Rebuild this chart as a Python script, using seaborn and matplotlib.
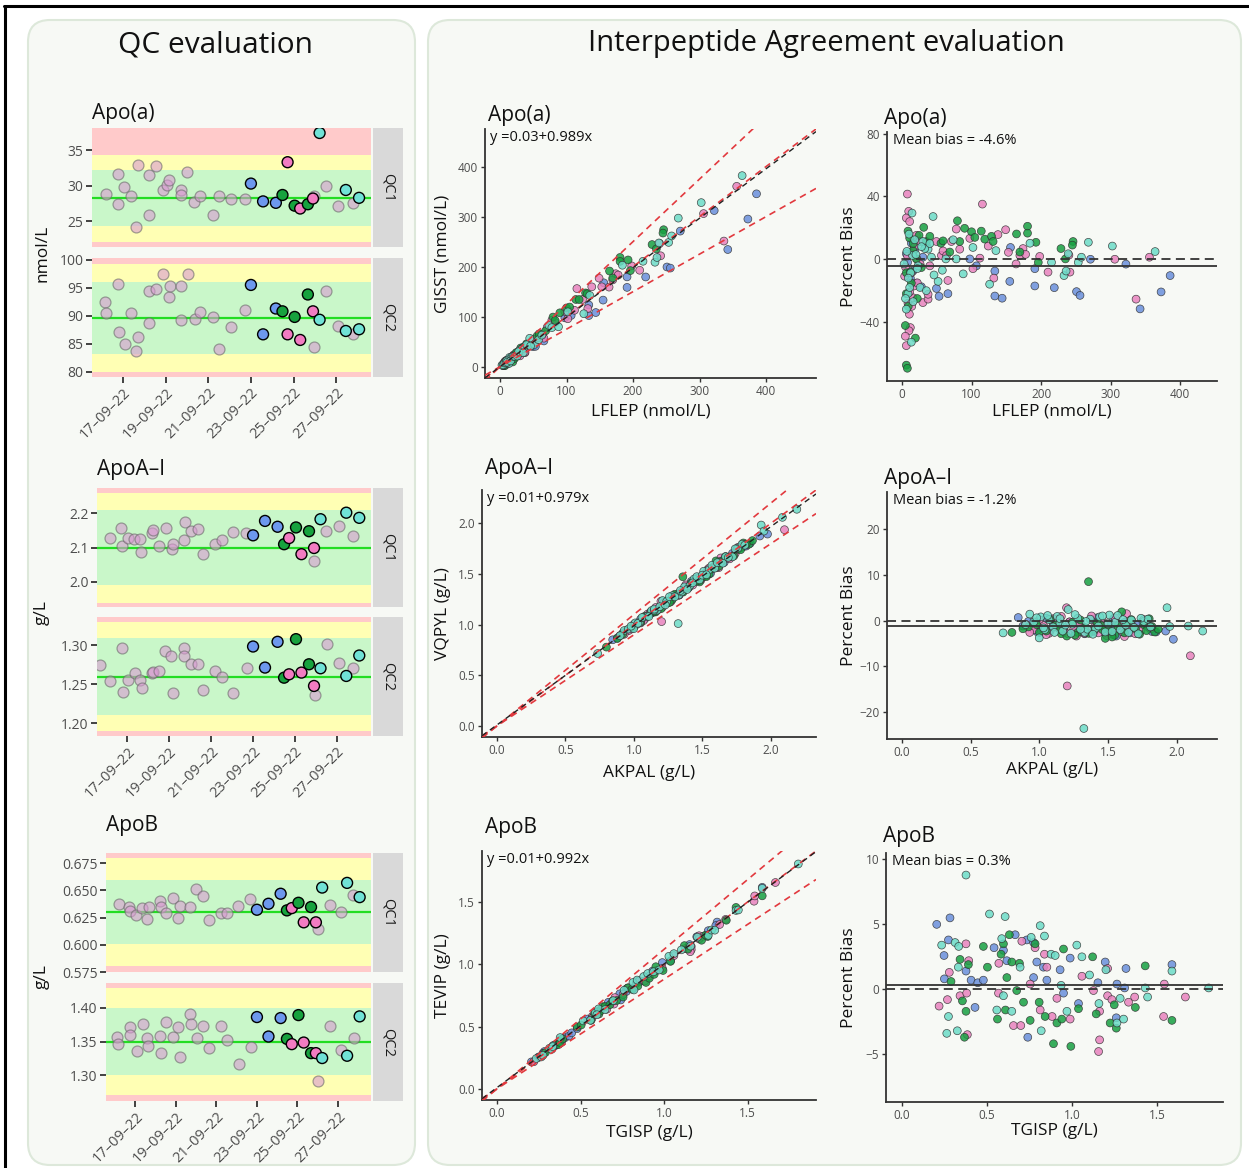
import numpy as np
import pandas as pd
import matplotlib
matplotlib.use("Agg")
import matplotlib.pyplot as plt
import matplotlib.dates as mdates
from matplotlib.patches import FancyBboxPatch
from matplotlib.lines import Line2D
from matplotlib.transforms import IdentityTransform
import seaborn as sns

# ---------------------------------------------------------------- data
# QC runs: the 12 most recent runs (coloured by batch) share the same days
RUN_DAYS = [23.0, 23.57, 24.17, 24.48, 24.72, 25.05, 25.31, 25.67, 25.91, 26.22, 27.45, 28.07]
RUN_BATCH = ["B", "B", "B", "G", "P", "G", "P", "G", "P", "C", "C", "C"]

# Apo(a) QC1 / QC2  (nmol/L)
apoa_qc1_hist_days = [16.22, 16.75, 16.75, 17.06, 17.38, 17.63, 17.69, 18.23, 18.23, 18.53, 18.86, 19.06, 19.17,
                      19.72, 19.72, 20.02, 20.34, 20.59, 21.2, 21.5, 22.06, 22.7, 25.94, 26.53, 27.1, 27.8]
apoa_qc1_hist_vals = [28.9, 31.7, 27.5, 29.8, 28.5, 24.2, 32.9, 31.5, 25.9, 32.8, 29.4, 30.1, 30.8,
                      29.4, 28.7, 31.9, 27.7, 28.6, 25.9, 28.5, 28.2, 28.2, 28.6, 29.9, 27.2, 27.6]
apoa_qc1_run_vals = [30.3, 27.8, 27.6, 28.7, 33.3, 27.2, 26.8, 27.4, 28.2, 37.4, 29.4, 28.3]
apoa_qc2_hist_days = [16.17, 16.22, 16.77, 16.8, 17.09, 17.39, 17.63, 17.7, 18.23, 18.23, 18.55, 18.88, 19.14,
                      19.19, 19.73, 19.73, 20.05, 20.36, 20.63, 21.2, 21.52, 22.08, 22.7, 26.53, 25.98, 27.1, 27.8]
apoa_qc2_hist_vals = [92.4, 90.5, 95.6, 87.1, 84.9, 90.5, 83.8, 86.3, 94.5, 88.8, 94.8, 97.5, 93.3,
                      95.4, 95.4, 89.2, 97.5, 89.5, 90.7, 89.8, 84.0, 88.0, 91.1, 94.5, 84.4, 88.1, 86.8]
apoa_qc2_run_vals = [95.5, 86.7, 91.3, 90.8, 86.7, 89.8, 85.7, 93.8, 90.8, 89.3, 87.3, 87.6]

# ApoA-I QC1 / QC2 (g/L)
apoa1_qc1_hist_days = [16.17, 16.7, 16.76, 17.02, 17.33, 17.62, 17.67, 18.19, 18.21, 18.5, 18.86, 19.13, 19.19,
                       19.7, 19.73, 20.02, 20.37, 20.6, 21.2, 21.52, 22.06, 22.66, 25.9, 26.49, 27.08, 27.78]
apoa1_qc1_hist_vals = [2.128, 2.158, 2.104, 2.129, 2.126, 2.126, 2.086, 2.144, 2.151, 2.106, 2.158, 2.095, 2.110,
                       2.122, 2.175, 2.149, 2.155, 2.082, 2.112, 2.122, 2.146, 2.144, 2.060, 2.149, 2.163, 2.133]
apoa1_qc1_run_vals = [2.136, 2.178, 2.161, 2.110, 2.128, 2.159, 2.081, 2.148, 2.099, 2.183, 2.202, 2.187]
apoa1_qc2_hist_days = [15.7, 16.17, 16.76, 16.78, 17.05, 17.37, 17.6, 17.7, 18.18, 18.24, 18.53, 18.81, 19.1,
                       19.16, 19.69, 19.72, 20.02, 20.35, 20.6, 21.19, 21.5, 22.06, 22.69, 25.95, 26.54, 27.11, 27.78]
apoa1_qc2_hist_vals = [1.275, 1.2547, 1.2966, 1.240, 1.2556, 1.264, 1.2556, 1.2449, 1.2645, 1.2654, 1.2675, 1.2923,
                       1.286, 1.2385, 1.2966, 1.2868, 1.276, 1.276, 1.2427, 1.2675, 1.260, 1.2385, 1.2705, 1.2368,
                       1.3017, 1.2778, 1.271]
apoa1_qc2_run_vals = [1.2983, 1.2714, 1.3043, 1.2585, 1.2628, 1.3077, 1.265, 1.2756, 1.2479, 1.2705, 1.2607, 1.2868]

# ApoB QC1 / QC2 (g/L)
apob_qc1_hist_days = [16.17, 16.7, 16.74, 17.03, 17.35, 17.58, 17.68, 18.22, 18.25, 18.5, 18.85, 19.12, 19.18,
                      19.72, 19.99, 20.32, 20.61, 21.21, 21.5, 22.08, 22.68, 26.01, 26.59, 27.13, 27.76]
apob_qc1_hist_vals = [0.6375, 0.6351, 0.6314, 0.6274, 0.6335, 0.6238, 0.6351, 0.640, 0.6351, 0.629, 0.6427, 0.6247,
                      0.6357, 0.6351, 0.6515, 0.6451, 0.6229, 0.6296, 0.6296, 0.6357, 0.6424, 0.6146, 0.6366,
                      0.6305, 0.646]
apob_qc1_run_vals = [0.6323, 0.6378, 0.647, 0.6317, 0.6338, 0.6387, 0.6207, 0.6348, 0.6207, 0.6527, 0.657, 0.6439]
apob_qc2_hist_days = [16.11, 16.16, 16.74, 16.74, 17.07, 17.36, 17.59, 17.64, 18.24, 18.25, 18.52, 18.88, 19.11,
                      19.18, 19.72, 19.76, 20.02, 20.35, 20.61, 21.22, 21.52, 22.1, 22.69, 25.99, 26.59, 27.13, 27.79]
apob_qc2_hist_vals = [1.3564, 1.3461, 1.3711, 1.3593, 1.3353, 1.376, 1.3559, 1.3436, 1.3583, 1.3328, 1.3794, 1.3574,
                      1.3721, 1.3265, 1.3902, 1.3755, 1.3554, 1.373, 1.3402, 1.373, 1.352, 1.3167, 1.3417, 1.2912,
                      1.3735, 1.3368, 1.3554]
apob_qc2_run_vals = [1.3863, 1.3574, 1.3848, 1.3539, 1.3461, 1.3892, 1.3485, 1.3328, 1.3328, 1.3255, 1.3289, 1.3873]

# QC targets and acceptance bands (green / yellow half widths)
qc_targets = [28.26, 89.6, 2.10, 1.26, 0.630, 1.35]
qc_green_half = [3.96, 6.4, 0.11, 0.049, 0.0295, 0.05]
qc_yellow_half = [6.1, 9.6, 0.16, 0.07, 0.0495, 0.079]
qc_ylims = [(21.4, 38.1), (79.1, 100.3), (1.927, 2.274), (1.184, 1.336), (0.5756, 0.6845), (1.2618, 1.4368)]
qc_yticks = [[25, 30, 35], [80, 85, 90, 95, 100], [2.0, 2.1, 2.2], [1.20, 1.25, 1.30],
             [0.575, 0.600, 0.625, 0.650, 0.675], [1.30, 1.35, 1.40]]
qc_tick_fmt = ["%d", "%d", "%.1f", "%.2f", "%.3f", "%.2f"]
date_tick_days = [17, 19, 21, 23, 25, 27]

# Interpeptide agreement: reference peptide concentration (x) and percent bias per batch
apoa_x = {
    "B": [6.2, 13.4, 20.6, 27.8, 35, 49.5, 53.3, 66, 97.5, 107, 133.5, 133.5, 144, 155, 156, 191, 191, 219, 251,
          256, 271, 322, 342.4, 372.6, 385.6, 15.8, 30, 8, 12, 18, 24],
    "P": [7.7, 9.6, 6.2, 11, 12, 10, 4.8, 6.2, 8.6, 10.6, 15.8, 20.6, 25.5, 30, 37.5, 37.5, 40, 56.7, 59, 66, 78,
          83, 97.5, 102, 112, 115.6, 124, 132, 138, 149, 153, 164, 169.5, 174, 177.7, 198, 210, 241.5, 240, 306,
          336.6, 355.8, 13.4, 17.3, 21.6, 15.8, 3.8, 11, 49.5, 71, 64, 5, 8, 14, 18, 22, 26],
    "G": [4.8, 6.2, 7.7, 19.2, 6.2, 8.6, 11, 15.8, 20.6, 24.5, 31.2, 35, 40, 56, 68.7, 79.7, 83, 90, 100, 104.7,
          114, 119, 128.7, 131, 164.7, 169.5, 180.5, 180.5, 192.6, 196, 228.6, 246, 245, 235, 6.2, 13.4, 27.8, 59,
          9, 12, 16, 22],
    "C": [14.4, 12.5, 8.6, 6.2, 13.4, 15, 18.2, 30, 37.5, 44.7, 42.3, 51.9, 58, 63, 73.5, 78, 88, 102, 126, 135,
          184, 215, 233, 239, 253.5, 258, 268, 302.5, 364, 236, 23, 32.7, 3, 5, 7, 9, 10, 11, 16, 20, 22, 26, 28,
          35, 40, 46],
}
apoa_bias = {
    "B": [3.5, 10.2, -15.2, -17.5, 9, -18.6, -23.6, -21.9, 0.2, -4.2, -7.5, -23.4, -24.8, -14.1, 7.5, -6, -17,
          -18.1, -20.6, -23, 0, -3.1, -31.6, -20.8, -10.4, -7.5, 1.3, -2, -12, 6, -4],
    "P": [41.5, 30.5, 26.3, 24, -43.5, -45.5, -49, -55, -28, -35, -24.5, 15.2, 11.3, -27.6, -25.4, -22.3, -4.2,
          2.4, 5.3, -13.5, 19.2, 6.4, 13.3, -6, 0.7, 35.1, 8.4, -12, 15.7, 18.8, 4.4, -3, 2.4, 6.8, 3.1, 1.8, -8.2,
          -8.2, 2.6, 0, -25.4, 1.3, -8.6, -17, 0.2, 4.6, -10.8, -20.8, 11.3, 11.3, 2.4, -5, 2, -30, 8, -15, -3],
    "G": [-42.2, -67.4, -69.4, -50.2, -21.9, 17.9, 13.5, 5.5, 0.2, 15.2, 20.3, 11.3, 14.6, 10.2, 4.6, 24.5, 11.3,
          19.7, 17.5, 13.9, 17.9, 12.8, 14.6, 11.3, 16.1, 4.6, 21, 16.6, 10.8, -2, 6.8, 11.3, 9, 0.2, -8.6, -15.2,
          -5.3, 11.7, -30, -8, 10, -25],
    "C": [29.4, -8.6, -21.9, -31.8, -52.8, 2.4, 12.4, 11.3, 6.4, 27.2, 1.3, -14.1, -7, 0.2, 12.4, 0.2, -9.3, 7.5,
          -15.9, 5.5, 10.2, -2, -10.4, 3.5, -2, 1.3, 10.8, 8.4, 4.9, -7.5, -4.2, 6.8, -3, -25, 5, -12, 16, -18,
          -27, 3, -6, -18, 8, -20, 10, -10],
}
apoa1_x = {
    "B": [0.846, 0.88, 0.95, 1.02, 1.08, 1.12, 1.18, 1.25, 1.30, 1.36, 1.42, 1.48, 1.52, 1.56, 1.62, 1.70, 1.75,
          1.80, 1.82, 1.92, 1.976, 1.10, 1.40, 1.58,
          0.92, 0.98, 1.05, 1.14, 1.22, 1.28, 1.33, 1.38, 1.45, 1.50, 1.54, 1.60, 1.66, 1.72, 1.78, 1.85],
    "P": [0.90, 0.96, 1.03, 1.07, 1.10, 1.14, 1.18, 1.198, 1.203, 1.22, 1.27, 1.31, 1.35, 1.38, 1.43, 1.47, 1.50,
          1.53, 1.58, 1.62, 1.635, 1.68, 1.74, 1.78, 2.10, 1.25, 1.45,
          0.93, 1.0, 1.05, 1.12, 1.16, 1.21, 1.29, 1.33, 1.40, 1.49, 1.55, 1.60, 1.65, 1.70, 1.76, 1.82],
    "G": [0.80, 0.92, 0.98, 1.05, 1.12, 1.16, 1.24, 1.28, 1.33, 1.358, 1.40, 1.45, 1.48, 1.52, 1.55, 1.60, 1.64,
          1.70, 1.76, 1.80, 1.84, 1.866, 1.26, 1.50,
          0.88, 1.0, 1.08, 1.15, 1.20, 1.30, 1.36, 1.42, 1.46, 1.53, 1.57, 1.62, 1.67, 1.73, 1.78, 1.82],
    "C": [0.736, 0.93, 0.96, 0.999, 1.01, 1.04, 1.07, 1.10, 1.13, 1.17, 1.21, 1.24, 1.28, 1.324, 1.33, 1.37, 1.41,
          1.44, 1.48, 1.51, 1.55, 1.59, 1.63, 1.67, 1.72, 1.76, 1.79, 1.93, 1.95, 2.085, 2.19, 1.15, 1.35,
          0.90, 0.98, 1.03, 1.06, 1.11, 1.15, 1.19, 1.23, 1.26, 1.30, 1.34, 1.39, 1.43, 1.46, 1.50, 1.53, 1.57,
          1.61, 1.65, 1.69, 1.74, 1.81],
}
apoa1_bias = {
    "B": [0.66, -1.2, -0.5, -1.8, -2.2, 0.3, -1.5, -2.6, -0.8, -1.9, 0.6, -2.9, -1.2, -3.4, -0.4, -2.0, -0.2,
          -1.6, -2.4, -2.3, -4.1, -1.0, -2.5, -0.9,
          -0.2, -2.4, 0.5, -1.1, -0.3, -1.8, -2.9, 0.2, -1.4, -2.2, 0.4, -1.3, -2.7, -0.9, -1.2, -2.5],
    "P": [-0.8, -2.0, -1.1, -2.8, 0.4, -1.7, -2.5, 2.8, -14.3, -0.3, -3.4, -1.2, -2.1, 1.0, -2.7, -0.5, -1.8,
          -3.0, -0.9, -3.5, 1.5, -1.4, -2.2, -0.6, -7.7, -1.9, -1.0,
          -2.6, 0.2, -3.1, -1.0, 0.9, -2.9, -0.6, -2.8, -1.5, -3.3, 0.6, -2.4, -1.1, -2.9, 0.2, -1.7],
    "G": [-2.6, -1.4, -0.9, -2.3, -1.0, -2.9, -0.4, -2.6, -1.5, 8.5, -2.2, -1.1, -3.9, -2.4, -3.2, 1.9, -0.7,
          -1.8, -0.9, 0.4, -2.5, -1.9, -3.2, -2.0,
          -1.8, -2.6, 0.3, -1.9, -3.4, 0.1, -2.8, -0.5, -2.0, -3.6, -1.2, -2.7, 0.2, -3.0, -2.2, -1.3],
    "C": [-2.7, 1.4, -0.3, -3.8, 0.8, -2.0, 0.2, -1.4, 0.9, -2.3, 2.4, -0.8, 0.5, -23.6, -2.6, 0.3, -1.7, 0.8,
          -2.5, 1.2, -0.4, -2.0, -1.0, 0.1, -2.9, -0.2, 0.3, 2.8, -1.3, -1.2, -2.3, -0.6, -1.9,
          -0.9, 0.6, -1.6, 1.1, -2.6, 0.4, -1.0, -2.8, 1.3, -1.9, -0.2, -3.0, -1.2, 1.0, -0.7, -2.4, 1.1, 0.2,
          -2.6, -1.5, 0.5, -1.4],
}
apob_x = {
    "B": [0.206, 0.284, 0.275, 0.249, 0.251, 0.378, 0.408, 0.431, 0.447, 0.48, 0.543, 0.598, 0.618, 0.667, 0.735,
          0.741, 0.775, 0.794, 0.775, 0.833, 0.853, 0.931, 0.99, 0.951, 1.039, 1.196, 1.153, 1.261, 1.265, 1.318,
          1.31, 1.588],
    "P": [0.22, 0.28, 0.269, 0.378, 0.394, 0.343, 0.382, 0.386, 0.571, 0.569, 0.657, 0.7, 0.706, 0.784, 0.839,
          0.853, 0.755, 0.814, 0.884, 0.912, 0.99, 1.059, 1.127, 1.21, 1.163, 1.163, 1.157, 1.21, 1.235, 1.333,
          1.369, 1.539, 1.543, 1.667],
    "G": [0.29, 0.343, 0.357, 0.369, 0.378, 0.392, 0.48, 0.504, 0.563, 0.584, 0.598, 0.61, 0.618, 0.633, 0.647,
          0.676, 0.692, 0.716, 0.755, 0.784, 0.808, 0.843, 0.892, 0.912, 0.941, 0.951, 0.994, 1.039, 1.122, 1.143,
          1.225, 1.261, 1.249, 1.373, 1.431, 1.588],
    "C": [0.235, 0.265, 0.275, 0.314, 0.335, 0.327, 0.333, 0.516, 0.559, 0.588, 0.608, 0.378, 0.598, 0.647, 0.696,
          0.761, 0.814, 0.839, 0.82, 0.878, 0.902, 0.937, 0.971, 1.029, 1.059, 1.104, 1.159, 1.2, 1.265, 1.284,
          1.304, 1.431, 1.445, 1.588, 1.804],
}
apob_bias = {
    "B": [5.0, 5.5, 3.8, 2.6, 0.8, 1.4, 0.7, -1.4, 0.5, 0.7, 3.2, 3.0, 2.2, 4.2, 3.8, -3.7, 3.6, 2.1, 0.9, 1.7, 0.7,
          1.5, 2.4, -0.3, -1.1, 2.1, 0.5, -2.2, 0.4, 1.6, 0.1, 1.9],
    "P": [-1.3, 1.3, -0.8, 3.5, 2.2, -0.5, -0.3, -3.5, 2.0, -0.3, -2.8, -2.8, 3.7, 3.2, 2.7, 1.7, 0.4, -1.6, -2.1,
          -0.7, -2.3, 1.0, -0.1, 1.6, -1.7, -3.9, -4.8, -0.5, -0.8, -1.0, -0.6, -2.1, 0.4, -0.6],
    "G": [0.6, 2.3, -0.9, -3.7, -1.7, 1.9, 3.3, 1.7, -2.3, 2.7, 3.5, -1.6, 0.9, 4.2, 2.1, -0.1, 2.0, -1.0, -2.4,
          3.5, -1.0, -2.1, -4.2, -2.6, -2.3, 3.1, -4.4, -1.5, 2.5, -1.9, -2.6, -3.0, -1.2, -1.4, 1.8, -2.4],
    "C": [3.4, -3.4, -2.1, 3.6, 3.3, -3.2, 1.7, 5.8, -1.6, 3.9, 5.6, 8.8, -0.5, -1.7, 1.7, 4.0, 4.9, 4.1, -3.2, 2.7,
          2.6, 0.3, -1.7, 3.4, 2.5, 1.1, -1.1, 1.5, -2.6, -0.7, -2.3, 0.1, -0.6, 1.4, 0.1],
}

fit_intercepts = [0.03, 0.01, 0.01]
fit_slopes = [0.989, 0.979, 0.992]
mean_bias = [-4.6, -1.2, 0.3]
tolerance = [0.25, 0.10, 0.12]
analytes = ["Apo(a)", "ApoA\u2013I", "ApoB"]
ref_peptides = ["LFLEP (nmol/L)", "AKPAL (g/L)", "TGISP (g/L)"]
alt_peptides = ["GISST (nmol/L)", "VQPYL (g/L)", "TEVIP (g/L)"]

# ---------------------------------------------------------------- style
sns.set_theme(style="white")
plt.rcParams["font.family"] = ["Open Sans", "DejaVu Sans"]
plt.rcParams["axes.unicode_minus"] = True

BAND_RED, BAND_YEL, BAND_GRN = "#ffcaca", "#ffffb4", "#c9f7c9"
TARGET_COL = "#22dd22"
QC_PAL = {"B": "#6d98ee", "G": "#17a23e", "P": "#f27cc2", "C": "#70e2d6"}
SC_PAL = {"B": "#6a90dc", "G": "#18a042", "P": "#e882be", "C": "#6ddcc8"}
RED_DASH = "#e2393e"
BOX_FACE, BOX_EDGE = "#f7f9f5", "#dde8da"
TICK_COL = "#4d4d4d"

W, H = 1249, 1168
fig = plt.figure(figsize=(W / 100, H / 100), dpi=100)
fig.patch.set_facecolor("white")


def px_axes(x0, y0, x1, y1):
    return fig.add_axes([x0 / W, 1 - y1 / H, (x1 - x0) / W, (y1 - y0) / H])


def px_text(x, y, s, **kw):
    fig.text(x / W, 1 - y / H, s, **kw)


# background boxes and outer frame
for (x0, y0, x1, y1) in [(28, 20, 415, 1165), (428, 20, 1241, 1165)]:
    fig.add_artist(FancyBboxPatch((x0, H - y1), x1 - x0, y1 - y0, boxstyle="round,pad=0,rounding_size=22",
                                  transform=IdentityTransform(), facecolor=BOX_FACE, edgecolor=BOX_EDGE,
                                  linewidth=1.5, zorder=0))
fig.add_artist(Line2D([4, W], [H - 6, H - 6], transform=IdentityTransform(), color="black", lw=2.2))
fig.add_artist(Line2D([5, 5], [0, H - 6], transform=IdentityTransform(), color="black", lw=2.2))

px_text(216, 45, "QC evaluation", fontsize=21.5, ha="center", va="center", color="#111111")
px_text(826, 43, "Interpeptide Agreement evaluation", fontsize=21, ha="center", va="center", color="#111111")

BASE = pd.Timestamp("2022-09-01")


def to_date(days):
    return BASE + pd.to_timedelta(np.asarray(days, float) - 1.0, unit="D")


XLIM_DAYS = (15.55, 28.63)


def qc_panel(rect, idx, hist_days, hist_vals, run_vals, strip_label, show_x):
    ax = px_axes(*rect)
    ax.set_facecolor(BAND_RED)
    t, g, yh = qc_targets[idx], qc_green_half[idx], qc_yellow_half[idx]
    ax.axhspan(t - yh, t + yh, color=BAND_YEL, lw=0, zorder=0)
    ax.axhspan(t - g, t + g, color=BAND_GRN, lw=0, zorder=0)
    ax.axhline(t, color=TARGET_COL, lw=1.6, zorder=1)
    hist = pd.DataFrame({"date": to_date(hist_days), "value": hist_vals})
    sns.scatterplot(data=hist, x="date", y="value", ax=ax, color="#d99ad2", alpha=0.6, s=62,
                    edgecolor="#6a6a6a", linewidth=0.9, zorder=2)
    run = pd.DataFrame({"date": to_date(RUN_DAYS), "value": run_vals, "batch": RUN_BATCH})
    sns.scatterplot(data=run, x="date", y="value", hue="batch", palette=QC_PAL, ax=ax, s=62,
                    edgecolor="black", linewidth=1.0, legend=False, zorder=3)
    lo, hi = to_date(list(XLIM_DAYS))
    ax.set_xlim(lo, hi)
    ax.set_ylim(*qc_ylims[idx])
    ax.set_yticks(qc_yticks[idx])
    ax.yaxis.set_major_formatter(matplotlib.ticker.FormatStrFormatter(qc_tick_fmt[idx]))
    for sp in ax.spines.values():
        sp.set_visible(False)
    ax.set_xlabel("")
    ax.set_ylabel("")
    ax.tick_params(axis="y", left=True, length=4, width=1.3, color="#333333", labelsize=10,
                   labelcolor=TICK_COL, pad=2)
    ax.xaxis.set_major_locator(mdates.DayLocator(bymonthday=date_tick_days))
    ax.xaxis.set_major_formatter(mdates.DateFormatter("%d\u2013%m\u2013%y"))
    if show_x:
        ax.tick_params(axis="x", bottom=True, length=4, width=1.3, color="#333333", labelsize=10.5,
                       labelcolor=TICK_COL, pad=2)
        for lab in ax.get_xticklabels():
            lab.set_rotation(45)
            lab.set_ha("right")
            lab.set_rotation_mode("anchor")
    else:
        ax.tick_params(axis="x", bottom=False, labelbottom=False)
    # facet strip
    sx = px_axes(373, rect[1], 403, rect[3])
    sx.set_facecolor("#d9d9d9")
    sx.set_xticks([])
    sx.set_yticks([])
    for sp in sx.spines.values():
        sp.set_visible(False)
    sx.text(0.5, 0.5, strip_label, rotation=-90, ha="center", va="center", fontsize=10.5,
            color="#1a1a1a", transform=sx.transAxes)
    return ax


qc_layout = [
    ("Apo(a)", 92, 119, (92, 128, 371, 247), (92, 258, 371, 377), apoa_qc1_hist_days, apoa_qc1_hist_vals,
     apoa_qc1_run_vals, apoa_qc2_hist_days, apoa_qc2_hist_vals, apoa_qc2_run_vals, "nmol/L", 253),
    ("ApoA\u2013I", 97, 475, (97, 488, 371, 607), (97, 617, 371, 736), apoa1_qc1_hist_days, apoa1_qc1_hist_vals,
     apoa1_qc1_run_vals, apoa1_qc2_hist_days, apoa1_qc2_hist_vals, apoa1_qc2_run_vals, "g/L", 613),
    ("ApoB", 106, 831, (106, 853, 371, 972), (106, 983, 371, 1101), apob_qc1_hist_days, apob_qc1_hist_vals,
     apob_qc1_run_vals, apob_qc2_hist_days, apob_qc2_hist_vals, apob_qc2_run_vals, "g/L", 977),
]
for k, (title, tx, ty, r1, r2, hd1, hv1, rv1, hd2, hv2, rv2, unit, uy) in enumerate(qc_layout):
    qc_panel(r1, 2 * k, hd1, hv1, rv1, "QC1", False)
    qc_panel(r2, 2 * k + 1, hd2, hv2, rv2, "QC2", True)
    px_text(tx, ty, title, fontsize=15, ha="left", va="baseline", color="#111111")
    px_text(42, uy, unit, fontsize=12.5, rotation=90, ha="center", va="center", color="#111111")


# ---------------------------------------------------------------- agreement panels
def build_df(xd, bd):
    rows = []
    for key in ["B", "P", "G", "C"]:
        for xv, bv in zip(xd[key], bd[key]):
            rows.append((xv, bv, key))
    df = pd.DataFrame(rows, columns=["x", "bias", "batch"])
    df["y"] = df["x"] * (1 + df["bias"] / 100.0)
    return df


def style_axes(ax):
    sns.despine(ax=ax)
    for s in ("left", "bottom"):
        ax.spines[s].set_color("#333333")
        ax.spines[s].set_linewidth(1.3)
    ax.tick_params(left=True, bottom=True, length=3, width=1.0, color="#333333", labelsize=8.5,
                   labelcolor=TICK_COL, pad=2)
    ax.set_facecolor("none")


agree_layout = [
    ((485, 129, 816, 378), (887, 132, 1217, 381), (-22.5, 475), (-21.6, 453), (-77.5, 81),
     [0, 100, 200, 300, 400], [-40, 0, 40, 80], 121, 124, 404, 403),
    ((482, 490, 816, 737), (887, 492, 1217, 739), (-0.108, 2.33), (-0.11, 2.294), (-25.9, 28.1),
     [0.0, 0.5, 1.0, 1.5, 2.0], [-20, -10, 0, 10, 20], 474, 484, 765, 762),
    ((482, 851, 816, 1100), (886, 853, 1223, 1102), (-0.09, 1.91), (-0.092, 1.888), (-8.69, 10.5),
     [0.0, 0.5, 1.0, 1.5], [-5, 0, 5, 10], 833, 842, 1125, 1123),
]
data_sets = [(apoa_x, apoa_bias), (apoa1_x, apoa1_bias), (apob_x, apob_bias)]

for k, (rs, rb, slim, bxlim, bylim, sticks, byticks, ts, tb, xls, xlb) in enumerate(agree_layout):
    df = build_df(*data_sets[k])
    fmt = "%d" if k == 0 else "%.1f"
    # scatter
    ax = px_axes(*rs)
    sns.scatterplot(data=df, x="x", y="y", hue="batch", palette=SC_PAL, s=32, alpha=0.85,
                    edgecolor="#2e2e2e", linewidth=0.5, legend=False, ax=ax, zorder=2)
    lx = np.array(slim)
    tol = tolerance[k]
    for f in (1.0, 1 + tol, 1 - tol):
        ax.plot(lx, f * lx, color=RED_DASH, lw=1.2, ls=(0, (4, 3)), zorder=3)
    ax.plot(lx, fit_intercepts[k] + fit_slopes[k] * lx, color="#222222", lw=1.0, ls=(0, (4, 3)), zorder=4)
    ax.set_xlim(*slim)
    ax.set_ylim(*slim)
    ax.set_xticks(sticks)
    ax.set_yticks(sticks)
    ax.xaxis.set_major_formatter(matplotlib.ticker.FormatStrFormatter(fmt))
    ax.yaxis.set_major_formatter(matplotlib.ticker.FormatStrFormatter(fmt))
    style_axes(ax)
    ax.set_xlabel(ref_peptides[k], fontsize=12.5, color="#111111")
    ax.set_ylabel(alt_peptides[k], fontsize=12.5, color="#111111")
    ax.xaxis.set_label_coords(0.5, -(xls - rs[3]) / (rs[3] - rs[1]))
    ax.yaxis.set_label_coords((451 - rs[0]) / (rs[2] - rs[0]), 0.5)
    eq = f"y ={fit_intercepts[k]:.2f}+{fit_slopes[k]:.3f}x"
    ax.text(0.015, 0.995, eq, transform=ax.transAxes, ha="left", va="top", fontsize=10.5, color="#111111")
    px_text(rs[0] + 3, ts, analytes[k], fontsize=15, ha="left", va="baseline", color="#111111")

    # bias plot
    bx = px_axes(*rb)
    sns.scatterplot(data=df, x="x", y="bias", hue="batch", palette=SC_PAL, s=32, alpha=0.85,
                    edgecolor="#2e2e2e", linewidth=0.5, legend=False, ax=bx, zorder=2)
    bx.axhline(0, color="#333333", lw=1.3, ls=(0, (5, 3)), zorder=3)
    bx.axhline(mean_bias[k], color="#333333", lw=1.3, zorder=3)
    bx.set_xlim(*bxlim)
    bx.set_ylim(*bylim)
    bx.set_xticks(sticks)
    bx.set_yticks(byticks)
    bx.xaxis.set_major_formatter(matplotlib.ticker.FormatStrFormatter(fmt))
    style_axes(bx)
    bx.set_xlabel(ref_peptides[k], fontsize=12.5, color="#111111")
    bx.set_ylabel("Percent Bias", fontsize=12.5, color="#111111")
    bx.xaxis.set_label_coords(0.5, -(xlb - rb[3]) / (rb[3] - rb[1]))
    bx.yaxis.set_label_coords((857 - rb[0]) / (rb[2] - rb[0]), 0.5)
    bx.text(0.018, 0.995, f"Mean bias = {mean_bias[k]:.1f}%", transform=bx.transAxes, ha="left", va="top",
            fontsize=10.5, color="#111111")
    px_text(rb[0] - 3, tb, analytes[k], fontsize=15, ha="left", va="baseline", color="#111111")

fig.savefig("out.png", dpi=100, facecolor="white")
